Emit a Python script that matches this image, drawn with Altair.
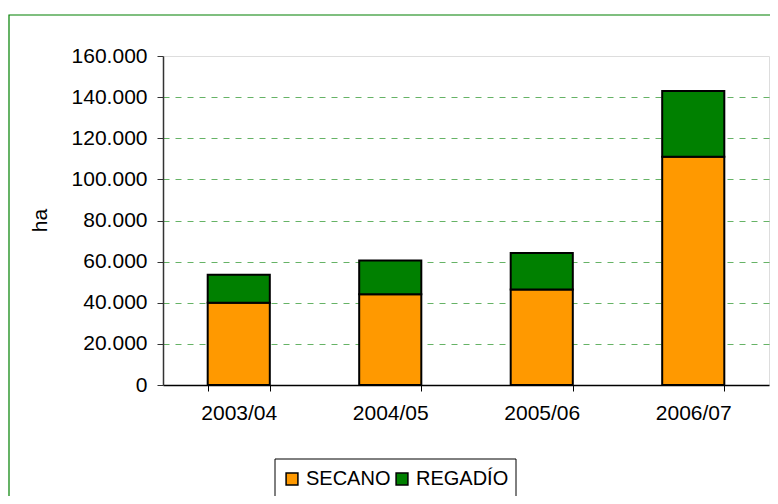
import altair as alt
import pandas as pd

years = ["2003/04", "2004/05", "2005/06", "2006/07"]
secano = [40000, 44100, 46400, 111000]
regadio = [13600, 16400, 17800, 32000]
series = ["SECANO", "REGADÍO"]
colors = ["#FF9900", "#008000"]

rows = []
for i, y in enumerate(years):
    rows.append({"year": y, "serie": "SECANO", "value": secano[i], "ord": 0})
    rows.append({"year": y, "serie": "REGADÍO", "value": regadio[i], "ord": 1})
df = pd.DataFrame(rows)

FONT = "Liberation Sans"

one = pd.DataFrame({"a": [0]})

frame = alt.Chart(one).mark_rect(fillOpacity=0, stroke="#008000", strokeWidth=1.2).encode(
    x=alt.value(-154), x2=alt.value(700), y=alt.value(-41), y2=alt.value(500)
)
legend_box = alt.Chart(one).mark_rect(fillOpacity=0, stroke="#000000", strokeWidth=1).encode(
    x=alt.value(112), x2=alt.value(353), y=alt.value(403), y2=alt.value(470)
)

bars = alt.Chart(df).mark_bar(stroke="#000000", strokeWidth=2).encode(
    x=alt.X("year:N", sort=years, title=None,
            scale=alt.Scale(paddingInner=0.59, paddingOuter=0.295),
            axis=alt.Axis(labelAngle=0, tickBand="extent", tickSize=6, tickColor="#000000",
                          domainColor="#000000", domainWidth=1.5, labelPadding=11,
                          labelFontSize=21, labelFont=FONT, labelColor="#000000", grid=False)),
    y=alt.Y("value:Q", stack="zero", title="ha",
            scale=alt.Scale(domain=[0, 160000], nice=False),
            axis=alt.Axis(values=[0, 20000, 40000, 60000, 80000, 100000, 120000, 140000, 160000],
                          labelExpr="replace(format(datum.value, ',d'), ',', '.')",
                          tickSize=6, tickColor="#333333", domainColor="#333333", domainWidth=1.5,
                          labelPadding=10, labelFontSize=21, labelFont=FONT, labelColor="#000000",
                          titleFont=FONT, titleFontSize=21, titleFontWeight="normal",
                          titleColor="#000000", titleAngle=-90, titleX=-123, titleY=164,
                          titleAlign="center", titleBaseline="middle",
                          grid=True, gridColor="#008000", gridDash=[6, 6],
                          gridOpacity={"condition": {"test": "datum.value == 0 || datum.value == 160000", "value": 0}, "value": 0.6})),
    color=alt.Color("serie:N", scale=alt.Scale(domain=series, range=colors),
                    legend=alt.Legend(title=None, orient="none", legendX=119, legendY=413,
                                      direction="horizontal", symbolType="square", symbolSize=140,
                                      symbolStrokeColor="#000000", symbolStrokeWidth=1.5,
                                      labelFont=FONT, labelFontSize=20, labelColor="#000000",
                                      labelOffset=4, columnPadding=1, padding=0)),
    order=alt.Order("ord:Q"),
)

chart = alt.layer(frame, legend_box, bars).properties(
    width=606, height=329,
    autosize=alt.AutoSizeParams(type="none"),
    padding={"left": 155, "top": 48, "right": 1, "bottom": 111},
).configure_view(stroke="#999999", strokeWidth=2).configure(background="white")

chart.save("out.html", embed_options={"renderer": "svg", "actions": False})
